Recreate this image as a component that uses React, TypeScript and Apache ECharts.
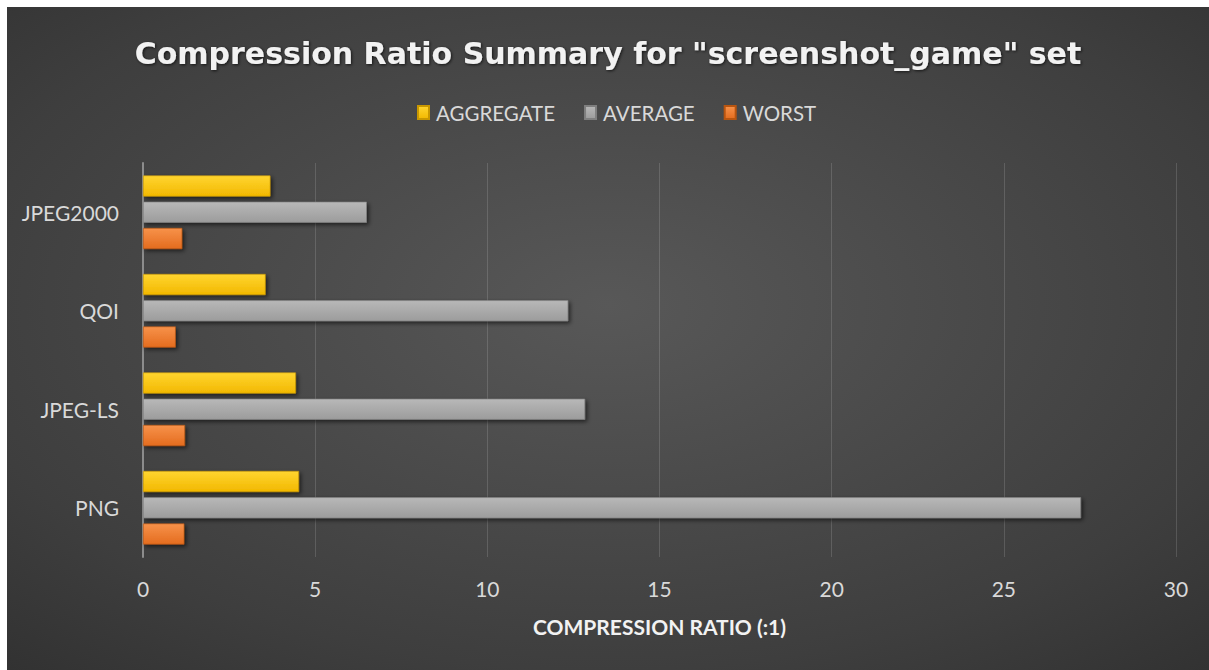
import React, { useEffect, useRef } from "react";
import * as echarts from "echarts";

const categories = ["PNG", "JPEG-LS", "QOI", "JPEG2000"];
const aggregate = [4.53, 4.44, 3.56, 3.7];
const average = [27.24, 12.84, 12.35, 6.5];
const worst = [1.2, 1.22, 0.95, 1.14];
const xTicks = { min: 0, max: 30, interval: 5 };

const FONT = "Lato, 'Open Sans', sans-serif";

function grad(top: string, bottom: string) {
  return new echarts.graphic.LinearGradient(0, 0, 0, 1, [
    { offset: 0, color: top },
    { offset: 1, color: bottom },
  ]);
}

export default function App() {
  const ref = useRef<HTMLDivElement>(null);
  useEffect(() => {
    document.body.style.margin = "0";
    document.documentElement.style.overflow = "hidden";
    document.body.style.overflow = "hidden";
    const chart = echarts.init(ref.current!, null, { renderer: "svg" });
    const barBase = {
      type: "bar",
      barWidth: 21,
      barGap: "25%",
      barCategoryGap: "26%",
    };
    const shadow = {
      shadowBlur: 4,
      shadowOffsetX: 2,
      shadowOffsetY: 2,
      shadowColor: "rgba(0,0,0,0.6)",
    };
    chart.setOption({
      animation: false,
      backgroundColor: {
        type: "radial",
        x: 0.5,
        y: 0.45,
        r: 1.0,
        colorStops: [
          { offset: 0, color: "#585858" },
          { offset: 0.55, color: "#3e3e3e" },
          { offset: 1, color: "#222222" },
        ],
      },
      title: {
        text: 'Compression Ratio Summary for "screenshot_game" set',
        left: "center",
        top: 26,
        textStyle: {
          fontFamily: "'DejaVu Sans', sans-serif",
          fontSize: 30,
          fontWeight: "bold",
          color: "#f2f2f2",
          textShadowColor: "rgba(0,0,0,0.7)",
          textShadowBlur: 3,
          textShadowOffsetX: 1,
          textShadowOffsetY: 1,
        },
      },
      legend: {
        top: 90,
        left: 405,
        itemWidth: 11,
        itemHeight: 13,
        itemGap: 29,
        icon: "rect",
        textStyle: { fontFamily: FONT, fontSize: 20.5, color: "#d9d9d9", padding: [0, 0, 0, 2] },
        data: ["AGGREGATE", "AVERAGE", "WORST"],
      },
      grid: { left: 136, right: 33, top: 156, bottom: 113, containLabel: false },
      xAxis: {
        type: "value",
        min: xTicks.min,
        max: xTicks.max,
        interval: xTicks.interval,
        name: "COMPRESSION RATIO (:1)",
        nameLocation: "middle",
        nameGap: 59,
        nameTextStyle: { fontFamily: FONT, fontSize: 21, fontWeight: "bold", color: "#f2f2f2" },
        axisLabel: { fontFamily: FONT, fontSize: 21, color: "#d9d9d9", margin: 21 },
        axisLine: { show: false },
        axisTick: { show: false },
        splitLine: { lineStyle: { color: "rgba(255,255,255,0.14)", width: 1 } },
      },
      yAxis: {
        type: "category",
        data: categories,
        axisLabel: { fontFamily: FONT, fontSize: 21, color: "#d9d9d9", margin: 24 },
        axisLine: { show: true, lineStyle: { color: "#8c8c8c", width: 2 } },
        axisTick: { show: false },
      },
      series: [
        {
          ...barBase,
          name: "AGGREGATE",
          data: aggregate,
          itemStyle: { color: grad("#ffd530", "#f2b800"), borderColor: "#c99700", borderWidth: 0.6, ...shadow },
        },
        {
          ...barBase,
          name: "AVERAGE",
          data: average,
          itemStyle: { color: grad("#b8b8b8", "#9c9c9c"), borderColor: "#7f7f7f", borderWidth: 0.6, ...shadow },
        },
        {
          ...barBase,
          name: "WORST",
          data: worst,
          itemStyle: { color: grad("#f7924a", "#e46c1f"), borderColor: "#b85510", borderWidth: 0.6, ...shadow },
        },
      ],
    });
    return () => chart.dispose();
  }, []);
  return (
    <div
      ref={ref}
      style={{ position: "absolute", left: 7, top: 7, width: 1202, height: 663 }}
    />
  );
}
